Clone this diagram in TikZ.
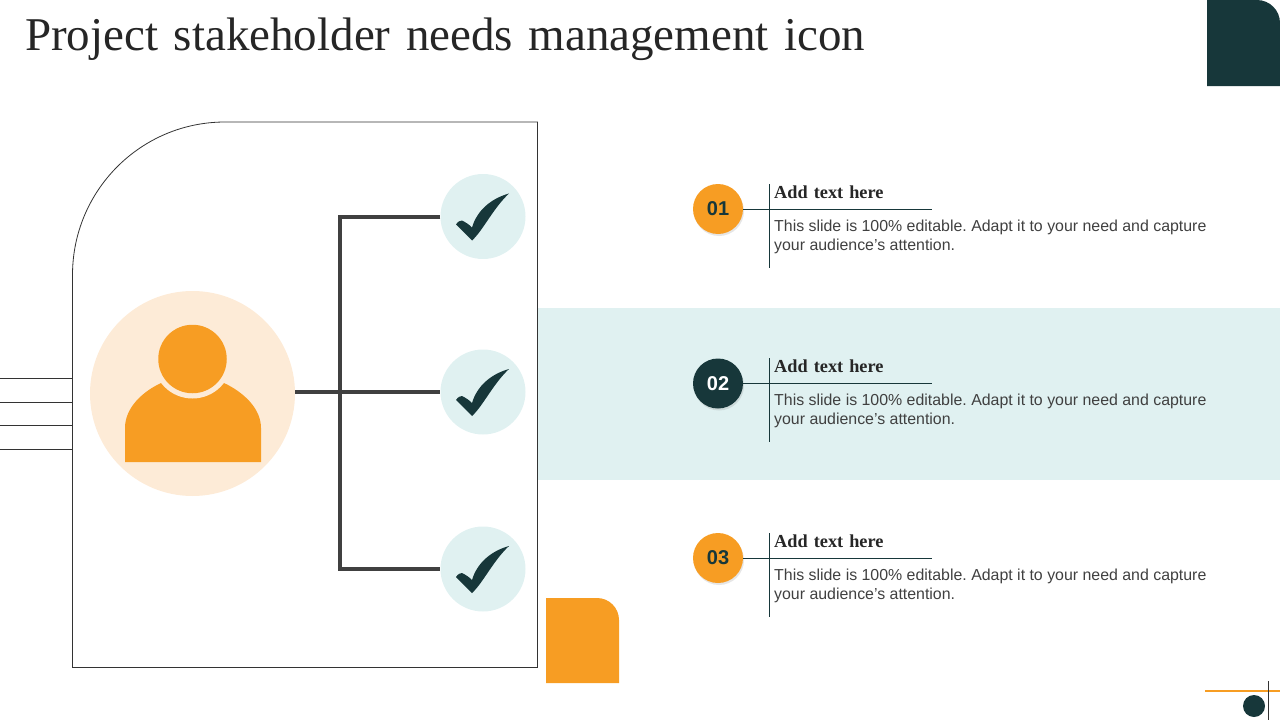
\documentclass[tikz,border=0pt]{standalone}
\usepackage{fontspec}
\setmainfont{Liberation Sans}
\newfontfamily\headfont{Liberation Serif}
\newfontfamily\titlefont[WordSpace=1.32]{Liberation Serif}
\usetikzlibrary{positioning, shadows}
\definecolor{darkteal}{HTML}{17373A}
\definecolor{paleteal}{HTML}{E0F1F1}
\definecolor{brandorange}{HTML}{F79D23}
\definecolor{paleorange}{HTML}{FDEBD7}
\definecolor{linkgray}{HTML}{404040}
\definecolor{bodygray}{HTML}{404040}

\begin{document}
\begin{tikzpicture}[
      x=1pt, y=-1pt,
      title/.style={anchor=west, inner sep=0pt, text=black!85, font=\titlefont\fontsize{47}{50}\selectfont},
      numdot/.style={circle, minimum size=50pt, inner sep=0pt, fill=brandorange, text=darkteal, font=\bfseries\fontsize{20}{22}\selectfont,
        drop shadow={shadow xshift=1pt, shadow yshift=-2pt, opacity=.2}},
      heading/.style={anchor=west, inner sep=0pt, text=black!85, font=\headfont\bfseries\fontsize{18.3}{20}\selectfont},
      bodytext/.style={anchor=north west, inner sep=0pt, text=bodygray, align=left, font=\frenchspacing\fontsize{15.9}{19}\selectfont},
      tickdot/.style={circle, minimum size=85pt, inner sep=0pt, fill=paleteal},
      link/.style={draw=linkgray, line width=4pt},
      rule/.style={draw=darkteal, line width=.8pt},
      thinline/.style={draw=black!80, line width=.8pt},
      tick/.pic={\fill[darkteal] (26,-23) .. controls (10,-8) and (0,14) .. (-11,24) -- (-27,8) .. controls (-25,5) and (-23,4) .. (-21,4)
        .. controls (-17,6) and (-14,8) .. (-11,11) .. controls (-6,-6) and (8,-18) .. cycle;}
    ]
      \useasboundingbox (0,0) rectangle (1280,720);

      % title and corner pieces
      \node[title] (titletext) at (25,39) {Project stakeholder needs management icon};
      \fill[darkteal] (1207,86) -- (1207,0) -- (1257,0) arc (-90:0:23) -- (1280,86) -- cycle;
      \fill[brandorange] (546,683) -- (546,598) -- (597,598) arc (-90:0:22) -- (619,683) -- cycle;
      \draw[draw=brandorange, line width=2pt] (1205,690.5) -- (1280,690.5);
      \draw[thinline] (1268.5,681) -- (1268.5,720);
      \node[circle, minimum size=22pt, inner sep=0pt, fill=darkteal] (cornerdot) at (1254,706) {};

      % middle band
      \fill[paleteal] (538,308) rectangle (1280,480);

      % panel
      \draw[thinline] (225,122) -- (537.5,122) -- (537.5,667.5) -- (72.5,667.5) -- (72.5,275) arc (-180:-90:152.5 and 153) -- cycle;
      \draw[thinline] (0,378.5) -- (72,378.5);
      \draw[thinline] (0,402) -- (72,402);
      \draw[thinline] (0,425.5) -- (72,425.5);
      \draw[thinline] (0,449.5) -- (72,449.5);

      % person
      \node[circle, minimum size=205pt, inner sep=0pt, fill=paleorange] (person) at (192.5,393.5) {};
      \fill[brandorange] (125,462) -- (125,428) .. controls (125,408) and (142,392) .. (161,383) -- (224,383) .. controls (243,392) and (261,408) .. (261,428) -- (261,462) -- cycle;
      \node[circle, minimum size=79pt, inner sep=0pt, fill=paleorange] (halo) at (192.5,359) {};
      \node[circle, minimum size=68.5pt, inner sep=0pt, fill=brandorange] (head) at (192.5,359) {};

      % ticks
      \node[tickdot] (tick1) at (483,216.5) {};
      \node[tickdot] (tick2) at (483,392) {};
      \node[tickdot] (tick3) at (483,569) {};
      \pic at (tick1) {tick};
      \pic at (tick2) {tick};
      \pic at (tick3) {tick};

      \coordinate (hub) at (340,392);
      \draw[link] (hub -| person.east) -- (tick2.west);
      \draw[link] (tick1.west) -- (hub |- tick1) -- (hub |- tick3) -- (tick3.west);

      % row 1
      \node[numdot] (num1) at (718,209) {\raisebox{-1pt}{01}};
      \coordinate (ruleend1) at (932,209);
      \draw[rule] (num1) -- (ruleend1);
      \draw[rule] (769.5,184) -- (769.5,268);
      \node[heading] (head1) at (774,192) {Add text here};
      \node[bodytext] (text1) at (774,219.5) {This slide is 100\% editable. Adapt it to your need and capture\\your audience’s attention.};

      % row 2
      \node[numdot, fill=darkteal, text=white] (num2) at (718,383.5) {\raisebox{-1pt}{02}};
      \coordinate (ruleend2) at (932,383.5);
      \draw[rule] (num2) -- (ruleend2);
      \draw[rule] (769.5,358) -- (769.5,442);
      \node[heading] (head2) at (774,366) {Add text here};
      \node[bodytext] (text2) at (774,393.5) {This slide is 100\% editable. Adapt it to your need and capture\\your audience’s attention.};

      % row 3
      \node[numdot] (num3) at (718,558) {\raisebox{-1pt}{03}};
      \coordinate (ruleend3) at (932,558);
      \draw[rule] (num3) -- (ruleend3);
      \draw[rule] (769.5,533) -- (769.5,617);
      \node[heading] (head3) at (774,541) {Add text here};
      \node[bodytext] (text3) at (774,568.5) {This slide is 100\% editable. Adapt it to your need and capture\\your audience’s attention.};

    \end{tikzpicture}
\end{document}
